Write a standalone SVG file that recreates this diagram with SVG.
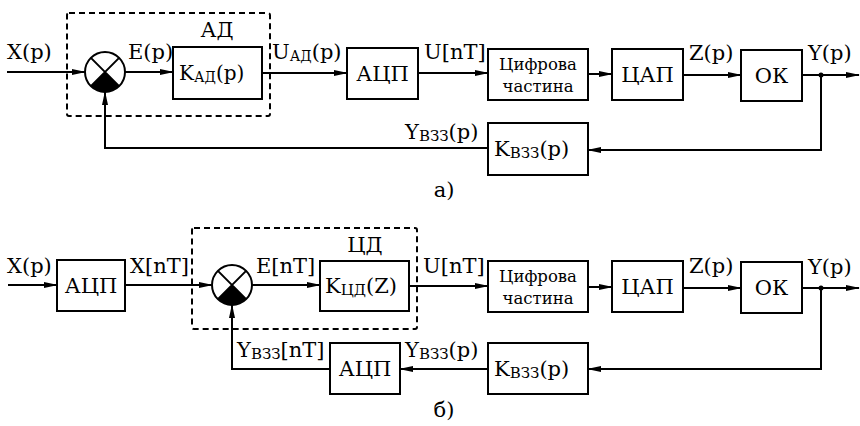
<svg xmlns="http://www.w3.org/2000/svg" width="860" height="426" viewBox="0 0 860 426">
<style>
.bx{fill:#fff;stroke:#000;stroke-width:2}
.ln{fill:none;stroke:#000;stroke-width:2}
.ar{fill:none;stroke:#000;stroke-width:2;marker-end:url(#ah)}
.ds{fill:none;stroke:#000;stroke-width:2;stroke-dasharray:6,4}
</style>
<defs>
<marker id="ah" markerWidth="14" markerHeight="8" refX="13" refY="4" orient="auto" markerUnits="userSpaceOnUse">
<path d="M0,1 L14,4 L0,7 Z" fill="#000"/>
</marker>
</defs>
<g font-family="DejaVu Serif, Liberation Serif, serif">

<!-- ===== Diagram a) ===== -->
<g id="a-dashed"><rect class="ds" x="67" y="13" width="203" height="103" rx="2"/></g>
<g id="a-sum">
<circle cx="105" cy="72" r="20" fill="#fff" stroke="#000" stroke-width="2"/>
<path d="M105,72 L90.9,86.1 A20,20 0 0 0 119.1,86.1 Z" fill="#000"/>
<path class="ln" d="M90.9,57.9 L119.1,86.1 M119.1,57.9 L90.9,86.1"/>
</g>
<g id="a-kad"><rect class="bx" x="173" y="47" width="89" height="52"/>
<text font-size="20" x="179" y="80">K<tspan font-size="14" dy="2">АД</tspan><tspan dy="-2">(p)</tspan></text></g>
<g id="a-adlabel"><text font-size="21" x="217" y="37" text-anchor="middle">АД</text></g>
<g id="a-adc"><rect class="bx" x="347" y="48" width="71" height="51"/><text font-size="21" x="382.5" y="81" text-anchor="middle">АЦП</text></g>
<g id="a-dig"><rect class="bx" x="488" y="49" width="100" height="51"/>
<text font-size="16.5" x="538" y="70" text-anchor="middle">Цифрова</text><text font-size="16.5" x="538" y="92" text-anchor="middle">частина</text></g>
<g id="a-dac"><rect class="bx" x="612" y="49" width="71" height="51"/><text font-size="21" x="647.5" y="82" text-anchor="middle">ЦАП</text></g>
<g id="a-ok"><rect class="bx" x="741" y="50" width="61" height="51"/><text font-size="21" x="771.5" y="83" text-anchor="middle">ОК</text></g>
<g id="a-kfb"><rect class="bx" x="488" y="123" width="100" height="52"/>
<text font-size="21" x="494" y="156">K<tspan font-size="15" dy="2">ВЗЗ</tspan><tspan dy="-2">(p)</tspan></text></g>

<g id="a-connectors">
<path class="ar" d="M7,72 H85"/>
<path class="ar" d="M125,72 H173"/>
<path class="ar" d="M262,73 H347"/>
<path class="ar" d="M418,73 H488"/>
<path class="ar" d="M588,74 H612"/>
<path class="ar" d="M683,75 H741"/>
<path class="ar" d="M802,75 H859"/>
<circle cx="821" cy="75" r="2.5" fill="#000"/>
<path class="ar" d="M821,75 V150 H588"/>
<path class="ar" d="M488,148 H105 V92"/>
</g>
<g id="a-labels" font-size="21">
<text x="7" y="59">X(p)</text>
<text x="128" y="59">E(p)</text>
<text x="272" y="59">U<tspan font-size="14" dy="2">АД</tspan><tspan dy="-2">(p)</tspan></text>
<text x="424" y="59">U[nT]</text>
<text x="689" y="60">Z(p)</text>
<text x="808" y="60">Y(p)</text>
<text x="405" y="139">Y<tspan font-size="15" dy="2">ВЗЗ</tspan><tspan dy="-2">(p)</tspan></text>
<text x="444" y="197" text-anchor="middle">а)</text>
</g>

<!-- ===== Diagram b) ===== -->
<g id="b-dashed"><rect class="ds" x="192" y="228" width="225" height="101" rx="2"/></g>
<g id="b-adc1"><rect class="bx" x="57" y="260" width="68" height="51"/><text font-size="21" x="91" y="293" text-anchor="middle">АЦП</text></g>
<g id="b-sum">
<circle cx="232" cy="285" r="20" fill="#fff" stroke="#000" stroke-width="2"/>
<path d="M232,285 L217.9,299.1 A20,20 0 0 0 246.1,299.1 Z" fill="#000"/>
<path class="ln" d="M217.9,270.9 L246.1,299.1 M246.1,270.9 L217.9,299.1"/>
</g>
<g id="b-kcd"><rect class="bx" x="320" y="261" width="89" height="50"/>
<text font-size="21" x="325" y="293">K<tspan font-size="15" dy="2">ЦД</tspan><tspan dy="-2">(Z)</tspan></text></g>
<g id="b-cdlabel"><text font-size="21" x="365" y="252" text-anchor="middle">ЦД</text></g>
<g id="b-dig"><rect class="bx" x="488" y="261" width="100" height="51"/>
<text font-size="16.5" x="538" y="282" text-anchor="middle">Цифрова</text><text font-size="16.5" x="538" y="304" text-anchor="middle">частина</text></g>
<g id="b-dac"><rect class="bx" x="612" y="261" width="71" height="51"/><text font-size="21" x="647.5" y="294" text-anchor="middle">ЦАП</text></g>
<g id="b-ok"><rect class="bx" x="741" y="262" width="61" height="51"/><text font-size="21" x="771.5" y="295" text-anchor="middle">ОК</text></g>
<g id="b-kfb"><rect class="bx" x="488" y="343" width="100" height="51"/>
<text font-size="21" x="494" y="376">K<tspan font-size="15" dy="2">ВЗЗ</tspan><tspan dy="-2">(p)</tspan></text></g>
<g id="b-adc2"><rect class="bx" x="330" y="343" width="70" height="51"/><text font-size="21" x="365" y="376" text-anchor="middle">АЦП</text></g>

<g id="b-connectors">
<path class="ar" d="M8,285 H57"/>
<path class="ar" d="M125,285 H212"/>
<path class="ar" d="M252,285 H320"/>
<path class="ar" d="M409,286 H488"/>
<path class="ar" d="M588,287 H612"/>
<path class="ar" d="M683,288 H741"/>
<path class="ar" d="M802,288 H859"/>
<circle cx="821" cy="288" r="2.5" fill="#000"/>
<path class="ar" d="M821,288 V369 H588"/>
<path class="ar" d="M488,369 H400"/>
<path class="ar" d="M330,369 H232 V305"/>
</g>
<g id="b-labels" font-size="21">
<text x="7" y="273">X(p)</text>
<text x="130" y="273">X[nT]</text>
<text x="256" y="273">E[nT]</text>
<text x="423" y="273">U[nT]</text>
<text x="689" y="273">Z(p)</text>
<text x="808" y="274">Y(p)</text>
<text x="237" y="357">Y<tspan font-size="15" dy="2">ВЗЗ</tspan><tspan dy="-2">[nT]</tspan></text>
<text x="405" y="357">Y<tspan font-size="15" dy="2">ВЗЗ</tspan><tspan dy="-2">(p)</tspan></text>
<text x="444" y="417" text-anchor="middle">б)</text>
</g>
</g>
</svg>
